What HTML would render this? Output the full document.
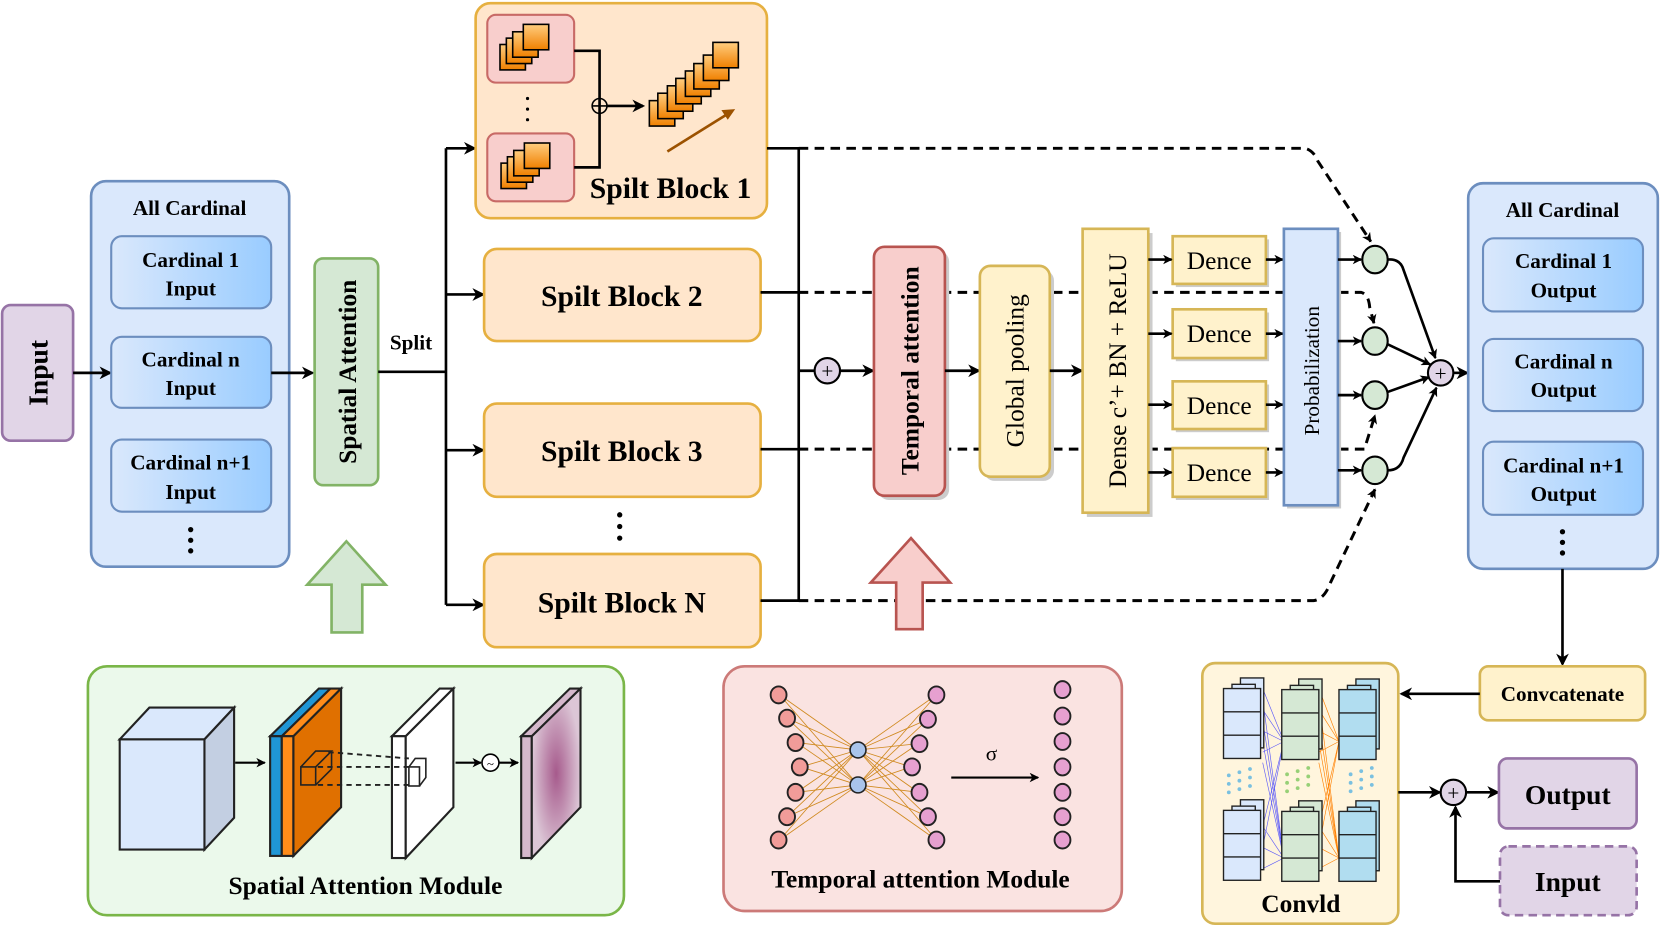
<!DOCTYPE html>
<html><head><meta charset="utf-8"><style>html,body{margin:0;padding:0;background:#fff}svg{display:block}</style></head><body>
<svg width="1661" height="929" viewBox="0 0 1568 877" preserveAspectRatio="none" xmlns="http://www.w3.org/2000/svg" font-family="'Liberation Serif',serif">
<defs>
<marker id="ar" markerWidth="12" markerHeight="12" refX="10" refY="6" orient="auto" markerUnits="userSpaceOnUse"><path d="M0,0 L12,6 L0,12 L3.5,6 z" fill="#000"/></marker>
<marker id="as" markerWidth="9" markerHeight="9" refX="8" refY="4.5" orient="auto" markerUnits="userSpaceOnUse"><path d="M0,0 L9,4.5 L0,9 L2.5,4.5 z" fill="#000"/></marker>
<linearGradient id="cg" x1="0" x2="1"><stop offset="0" stop-color="#dae8fc"/><stop offset="1" stop-color="#99ccff"/></linearGradient>
<linearGradient id="og" x1="0" y1="0" x2="0" y2="1"><stop offset="0" stop-color="#ffcd80"/><stop offset="1" stop-color="#f08000"/></linearGradient>
<radialGradient id="pg"><stop offset="0" stop-color="#a65a8c"/><stop offset="1" stop-color="#dcc6d6"/></radialGradient>
<g id="sq"><rect width="24" height="24" fill="url(#og)" stroke="#000" stroke-width="1.5"/></g>
<g id="cs1"><g stroke="#222" stroke-width="1.3" fill="#dae8fc"><rect x="16" y="-10" width="22" height="66"/><rect x="8" y="-4" width="22" height="66"/><rect x="0" y="0" width="35" height="66"/><line x1="0" y1="22" x2="35" y2="22"/><line x1="0" y1="44" x2="35" y2="44"/></g></g>
<g id="cs2"><g stroke="#222" stroke-width="1.3" fill="#d5e8d4"><rect x="16" y="-10" width="22" height="66"/><rect x="8" y="-4" width="22" height="66"/><rect x="0" y="0" width="35" height="66"/><line x1="0" y1="22" x2="35" y2="22"/><line x1="0" y1="44" x2="35" y2="44"/></g></g>
<g id="cs3"><g stroke="#222" stroke-width="1.3" fill="#b1ddf0"><rect x="16" y="-10" width="22" height="66"/><rect x="8" y="-4" width="22" height="66"/><rect x="0" y="0" width="35" height="66"/><line x1="0" y1="22" x2="35" y2="22"/><line x1="0" y1="44" x2="35" y2="44"/></g></g>
</defs>

<!-- Input -->
<rect x="2" y="288" width="67" height="128" rx="8" fill="#e1d5e7" stroke="#9673a6" stroke-width="2.5"/>
<text transform="translate(45,352) rotate(-90)" text-anchor="middle" font-size="26" font-weight="bold">Input</text>

<!-- Left All Cardinal -->
<rect x="86" y="171" width="187" height="364" rx="14" fill="#dae8fc" stroke="#6c8ebf" stroke-width="2.5"/>
<line x1="69" y1="352" x2="104" y2="352" stroke="#000" stroke-width="2.5" marker-end="url(#ar)"/>
<text x="179" y="203" text-anchor="middle" font-size="20" font-weight="bold">All Cardinal</text>
<rect x="105" y="223" width="151" height="68" rx="10" fill="url(#cg)" stroke="#6c8ebf" stroke-width="2"/>
<text x="180" y="252" text-anchor="middle" font-size="20" font-weight="bold">Cardinal 1</text><text x="180" y="279" text-anchor="middle" font-size="20" font-weight="bold">Input</text>
<rect x="105" y="318" width="151" height="67" rx="10" fill="url(#cg)" stroke="#6c8ebf" stroke-width="2"/>
<text x="180" y="346" text-anchor="middle" font-size="20" font-weight="bold">Cardinal n</text><text x="180" y="373" text-anchor="middle" font-size="20" font-weight="bold">Input</text>
<rect x="105" y="415" width="151" height="68" rx="10" fill="url(#cg)" stroke="#6c8ebf" stroke-width="2"/>
<text x="180" y="443" text-anchor="middle" font-size="20" font-weight="bold">Cardinal n+1</text><text x="180" y="471" text-anchor="middle" font-size="20" font-weight="bold">Input</text>
<g fill="#000"><circle cx="180" cy="500" r="2.5"/><circle cx="180" cy="510" r="2.5"/><circle cx="180" cy="520" r="2.5"/></g>
<line x1="256" y1="352" x2="295" y2="352" stroke="#000" stroke-width="2.5" marker-end="url(#ar)"/>

<!-- Spatial attention -->
<rect x="297" y="244" width="60" height="214" rx="8" fill="#d5e8d4" stroke="#82b366" stroke-width="2.5"/>
<text transform="translate(336,351) rotate(-90)" text-anchor="middle" font-size="24" font-weight="bold">Spatial Attention</text>
<line x1="357" y1="351" x2="421" y2="351" stroke="#000" stroke-width="2.5"/>
<text x="388" y="330" text-anchor="middle" font-size="20" font-weight="bold">Split</text>
<polyline points="421,140 421,571" fill="none" stroke="#000" stroke-width="2.5"/>
<line x1="421" y1="140" x2="448" y2="140" stroke="#000" stroke-width="2.5" marker-end="url(#ar)"/>
<line x1="421" y1="278" x2="456" y2="278" stroke="#000" stroke-width="2.5" marker-end="url(#ar)"/>
<line x1="421" y1="425" x2="456" y2="425" stroke="#000" stroke-width="2.5" marker-end="url(#ar)"/>
<line x1="421" y1="571" x2="456" y2="571" stroke="#000" stroke-width="2.5" marker-end="url(#ar)"/>

<!-- Spilt Block 1 -->
<rect x="449" y="3" width="275" height="203" rx="14" fill="#ffe6cc" stroke="#e6b040" stroke-width="2.5"/>
<rect x="460" y="14" width="82" height="64" rx="8" fill="#f8cecc" stroke="#c86a66" stroke-width="2"/>
<rect x="460" y="126" width="82" height="64" rx="8" fill="#f8cecc" stroke="#c86a66" stroke-width="2"/>
<use href="#sq" x="472" y="42"/><use href="#sq" x="478" y="36"/><use href="#sq" x="484" y="30"/><use href="#sq" x="494" y="23"/>
<use href="#sq" x="473" y="154"/><use href="#sq" x="479" y="148"/><use href="#sq" x="485" y="142"/><use href="#sq" x="495" y="135"/>
<g fill="#000"><circle cx="498" cy="93" r="1.5"/><circle cx="498" cy="103" r="1.5"/><circle cx="498" cy="113" r="1.5"/></g>
<polyline points="542,48 566,48 566,158 542,158" fill="none" stroke="#000" stroke-width="2.5"/>
<circle cx="566" cy="100" r="7" fill="none" stroke="#000" stroke-width="1.5"/><line x1="559" y1="100" x2="573" y2="100" stroke="#000" stroke-width="1.5"/>
<line x1="573" y1="100" x2="607" y2="100" stroke="#000" stroke-width="2.5" marker-end="url(#ar)"/>
<use href="#sq" x="613" y="95"/><use href="#sq" x="621" y="88"/><use href="#sq" x="630" y="81"/><use href="#sq" x="638" y="74"/><use href="#sq" x="647" y="67"/><use href="#sq" x="655" y="60"/><use href="#sq" x="664" y="52"/><use href="#sq" x="673" y="40"/>
<line x1="630" y1="143" x2="691" y2="105" stroke="#9c5200" stroke-width="2.5"/><path d="M694,103 L681,104 L687,113 z" fill="#9c5200"/>
<text x="633" y="187" text-anchor="middle" font-size="28" font-weight="bold">Spilt Block 1</text>

<!-- Blocks 2,3,N -->
<rect x="457" y="235" width="261" height="87" rx="12" fill="#ffe6cc" stroke="#e6b040" stroke-width="2.5"/>
<text x="587" y="289" text-anchor="middle" font-size="28" font-weight="bold">Spilt Block 2</text>
<rect x="457" y="381" width="261" height="88" rx="12" fill="#ffe6cc" stroke="#e6b040" stroke-width="2.5"/>
<text x="587" y="435" text-anchor="middle" font-size="28" font-weight="bold">Spilt Block 3</text>
<g fill="#000"><circle cx="585" cy="486" r="2.5"/><circle cx="585" cy="497" r="2.5"/><circle cx="585" cy="508" r="2.5"/></g>
<rect x="457" y="523" width="261" height="88" rx="12" fill="#ffe6cc" stroke="#e6b040" stroke-width="2.5"/>
<text x="587" y="578" text-anchor="middle" font-size="28" font-weight="bold">Spilt Block N</text>

<!-- collecting lines -->
<g stroke="#000" stroke-width="2.5" fill="none">
<polyline points="724,140 754,140 754,567 718,567"/>
<line x1="718" y1="276" x2="754" y2="276"/><line x1="718" y1="424" x2="754" y2="424"/>
<line x1="754" y1="350" x2="769" y2="350"/>
</g>
<circle cx="781" cy="350" r="12" fill="#e1d5e7" stroke="#000" stroke-width="2"/><text x="781" y="357" text-anchor="middle" font-size="20">+</text>
<line x1="793" y1="350" x2="824" y2="350" stroke="#000" stroke-width="2.5" marker-end="url(#ar)"/>

<!-- dashed -->
<g stroke="#000" stroke-width="2.8" fill="none" stroke-dasharray="9,6">
<path d="M754,140 L1232,140 Q1240,142 1244,152 L1294,228" marker-end="url(#as)"/>
<path d="M754,276 L1285,276 Q1292,278 1293,290 L1297,305" marker-end="url(#as)"/>
<path d="M754,424 L1288,424 L1298,392" marker-end="url(#as)"/>
<path d="M754,567 L1240,567 Q1250,566 1256,550 L1298,462" marker-end="url(#as)"/>
</g>

<!-- Temporal attention -->
<rect x="829" y="237" width="67" height="235" rx="10" fill="#ccc"/>
<rect x="825" y="233" width="67" height="235" rx="10" fill="#f8cecc" stroke="#b85450" stroke-width="2.5"/>
<text transform="translate(867,350) rotate(-90)" text-anchor="middle" font-size="24" font-weight="bold">Temporal attention</text>
<line x1="892" y1="350" x2="924" y2="350" stroke="#000" stroke-width="2.5" marker-end="url(#ar)"/>
<rect x="929" y="255" width="66" height="199" rx="10" fill="#ccc"/>
<rect x="925" y="251" width="66" height="199" rx="10" fill="#fff2cc" stroke="#d6b656" stroke-width="2.5"/>
<text transform="translate(966,350) rotate(-90)" text-anchor="middle" font-size="24">Global pooling</text>
<line x1="991" y1="350" x2="1021" y2="350" stroke="#000" stroke-width="2.5" marker-end="url(#ar)"/>
<rect x="1026" y="220" width="62" height="268" fill="#ccc"/>
<rect x="1022" y="216" width="62" height="268" fill="#fff2cc" stroke="#d6b656" stroke-width="2.5"/>
<text transform="translate(1063,350) rotate(-90)" text-anchor="middle" font-size="24">Dense c’+ BN + ReLU</text>

<!-- Dence -->
<g font-size="24">
<rect x="1110" y="226" width="88" height="45" fill="#ccc"/><rect x="1107" y="223" width="88" height="45" fill="#fff2cc" stroke="#d6b656" stroke-width="2.5"/><text x="1151" y="254" text-anchor="middle">Dence</text>
<rect x="1110" y="295" width="88" height="46" fill="#ccc"/><rect x="1107" y="292" width="88" height="46" fill="#fff2cc" stroke="#d6b656" stroke-width="2.5"/><text x="1151" y="323" text-anchor="middle">Dence</text>
<rect x="1110" y="363" width="88" height="45" fill="#ccc"/><rect x="1107" y="360" width="88" height="45" fill="#fff2cc" stroke="#d6b656" stroke-width="2.5"/><text x="1151" y="391" text-anchor="middle">Dence</text>
<rect x="1110" y="426" width="88" height="46" fill="#ccc"/><rect x="1107" y="423" width="88" height="46" fill="#fff2cc" stroke="#d6b656" stroke-width="2.5"/><text x="1151" y="454" text-anchor="middle">Dence</text>
</g>
<g stroke="#000" stroke-width="2.5">
<line x1="1084" y1="245" x2="1106" y2="245" marker-end="url(#as)"/><line x1="1084" y1="315" x2="1106" y2="315" marker-end="url(#as)"/><line x1="1084" y1="382" x2="1106" y2="382" marker-end="url(#as)"/><line x1="1084" y1="446" x2="1106" y2="446" marker-end="url(#as)"/>
<line x1="1195" y1="245" x2="1211" y2="245" marker-end="url(#as)"/><line x1="1195" y1="315" x2="1211" y2="315" marker-end="url(#as)"/><line x1="1195" y1="382" x2="1211" y2="382" marker-end="url(#as)"/><line x1="1195" y1="446" x2="1211" y2="446" marker-end="url(#as)"/>
</g>
<rect x="1215" y="219" width="51" height="261" fill="#ccc"/>
<rect x="1212" y="216" width="51" height="261" fill="#dae8fc" stroke="#6c8ebf" stroke-width="2.5"/>
<text transform="translate(1245,350) rotate(-90)" text-anchor="middle" font-size="20">Probabilization</text>
<g stroke="#000" stroke-width="2.5">
<line x1="1263" y1="245" x2="1285" y2="245" marker-end="url(#as)"/><line x1="1263" y1="322" x2="1285" y2="322" marker-end="url(#as)"/><line x1="1263" y1="373" x2="1285" y2="373" marker-end="url(#as)"/><line x1="1263" y1="444" x2="1285" y2="444" marker-end="url(#as)"/>
</g>
<g fill="#d5e8d4" stroke="#000" stroke-width="2">
<ellipse cx="1298" cy="245" rx="12" ry="13"/><ellipse cx="1298" cy="322" rx="12" ry="13"/><ellipse cx="1298" cy="373" rx="12" ry="13"/><ellipse cx="1298" cy="444" rx="12" ry="13"/>
</g>
<g stroke="#000" stroke-width="2.5" fill="none">
<path d="M1310,245 Q1322,244 1325,255 L1355,338" marker-end="url(#as)"/>
<path d="M1310,325 L1350,344" marker-end="url(#as)"/>
<path d="M1310,370 L1349,356" marker-end="url(#as)"/>
<path d="M1310,444 Q1322,444 1325,432 L1356,366" marker-end="url(#as)"/>
</g>
<circle cx="1360" cy="352" r="12" fill="#e1d5e7" stroke="#000" stroke-width="2"/><text x="1360" y="359" text-anchor="middle" font-size="20">+</text>
<line x1="1372" y1="352" x2="1385" y2="352" stroke="#000" stroke-width="2.5" marker-end="url(#ar)"/>

<!-- Right All Cardinal -->
<rect x="1386" y="173" width="179" height="364" rx="14" fill="#dae8fc" stroke="#6c8ebf" stroke-width="2.5"/>
<text x="1475" y="205" text-anchor="middle" font-size="20" font-weight="bold">All Cardinal</text>
<rect x="1400" y="225" width="151" height="69" rx="10" fill="url(#cg)" stroke="#6c8ebf" stroke-width="2"/>
<text x="1476" y="253" text-anchor="middle" font-size="20" font-weight="bold">Cardinal 1</text><text x="1476" y="281" text-anchor="middle" font-size="20" font-weight="bold">Output</text>
<rect x="1400" y="320" width="151" height="68" rx="10" fill="url(#cg)" stroke="#6c8ebf" stroke-width="2"/>
<text x="1476" y="348" text-anchor="middle" font-size="20" font-weight="bold">Cardinal n</text><text x="1476" y="375" text-anchor="middle" font-size="20" font-weight="bold">Output</text>
<rect x="1400" y="417" width="151" height="69" rx="10" fill="url(#cg)" stroke="#6c8ebf" stroke-width="2"/>
<text x="1476" y="446" text-anchor="middle" font-size="20" font-weight="bold">Cardinal n+1</text><text x="1476" y="473" text-anchor="middle" font-size="20" font-weight="bold">Output</text>
<g fill="#000"><circle cx="1475" cy="502" r="2.5"/><circle cx="1475" cy="512" r="2.5"/><circle cx="1475" cy="522" r="2.5"/></g>
<line x1="1475" y1="537" x2="1475" y2="627" stroke="#000" stroke-width="2.5" marker-end="url(#ar)"/>
<rect x="1397" y="629" width="156" height="51" rx="8" fill="#fff2cc" stroke="#d6b656" stroke-width="2.5"/>
<text x="1475" y="662" text-anchor="middle" font-size="20" font-weight="bold">Convcatenate</text>
<line x1="1397" y1="655" x2="1323" y2="655" stroke="#000" stroke-width="2.5" marker-end="url(#ar)"/>

<!-- Conv1d -->
<rect x="1135" y="626" width="185" height="246" rx="12" fill="#fff5dd" stroke="#d6b656" stroke-width="2.5"/>
<g stroke="#3333ff" stroke-width="0.6" opacity="0.8">
<line x1="1192" y1="650" x2="1212" y2="700"/><line x1="1192" y1="670" x2="1212" y2="700"/><line x1="1192" y1="690" x2="1212" y2="700"/><line x1="1192" y1="710" x2="1212" y2="700"/><line x1="1192" y1="720" x2="1212" y2="810"/><line x1="1192" y1="700" x2="1212" y2="810"/><line x1="1192" y1="680" x2="1212" y2="810"/><line x1="1192" y1="660" x2="1212" y2="810"/><line x1="1192" y1="780" x2="1212" y2="810"/><line x1="1192" y1="800" x2="1212" y2="810"/><line x1="1192" y1="820" x2="1212" y2="810"/><line x1="1192" y1="780" x2="1212" y2="700"/><line x1="1192" y1="800" x2="1212" y2="700"/>
</g>
<g stroke="#ff8000" stroke-width="0.6">
<line x1="1245" y1="650" x2="1264" y2="700"/><line x1="1245" y1="670" x2="1264" y2="700"/><line x1="1245" y1="690" x2="1264" y2="700"/><line x1="1245" y1="710" x2="1264" y2="700"/><line x1="1245" y1="720" x2="1264" y2="810"/><line x1="1245" y1="700" x2="1264" y2="810"/><line x1="1245" y1="680" x2="1264" y2="810"/><line x1="1245" y1="660" x2="1264" y2="810"/><line x1="1245" y1="780" x2="1264" y2="810"/><line x1="1245" y1="800" x2="1264" y2="810"/><line x1="1245" y1="820" x2="1264" y2="810"/><line x1="1245" y1="780" x2="1264" y2="700"/><line x1="1245" y1="800" x2="1264" y2="700"/>
</g>
<use href="#cs1" x="1155" y="650"/><use href="#cs1" x="1155" y="765"/>
<use href="#cs2" x="1210" y="651"/><use href="#cs2" x="1210" y="766"/>
<use href="#cs3" x="1264" y="651"/><use href="#cs3" x="1264" y="766"/>
<g fill="#7ac0e0"><circle cx="1160" cy="732" r="1.8"/><circle cx="1170" cy="729" r="1.8"/><circle cx="1180" cy="726" r="1.8"/><circle cx="1160" cy="740" r="1.8"/><circle cx="1170" cy="737" r="1.8"/><circle cx="1180" cy="734" r="1.8"/><circle cx="1160" cy="748" r="1.8"/><circle cx="1170" cy="745" r="1.8"/><circle cx="1180" cy="742" r="1.8"/>
<circle cx="1275" cy="731" r="1.8"/><circle cx="1285" cy="728" r="1.8"/><circle cx="1295" cy="725" r="1.8"/><circle cx="1275" cy="739" r="1.8"/><circle cx="1285" cy="736" r="1.8"/><circle cx="1295" cy="733" r="1.8"/><circle cx="1275" cy="747" r="1.8"/><circle cx="1285" cy="744" r="1.8"/><circle cx="1295" cy="741" r="1.8"/></g>
<g fill="#97d077"><circle cx="1215" cy="731" r="1.8"/><circle cx="1225" cy="728" r="1.8"/><circle cx="1235" cy="725" r="1.8"/><circle cx="1215" cy="739" r="1.8"/><circle cx="1225" cy="736" r="1.8"/><circle cx="1235" cy="733" r="1.8"/><circle cx="1215" cy="747" r="1.8"/><circle cx="1225" cy="744" r="1.8"/><circle cx="1235" cy="741" r="1.8"/></g>
<text x="1228" y="861" text-anchor="middle" font-size="24" font-weight="bold">Convld</text>
<line x1="1320" y1="748" x2="1359" y2="748" stroke="#000" stroke-width="2.5" marker-end="url(#ar)"/>
<circle cx="1372" cy="748" r="12" fill="#e1d5e7" stroke="#000" stroke-width="2"/><text x="1372" y="755" text-anchor="middle" font-size="20">+</text>
<line x1="1384" y1="748" x2="1414" y2="748" stroke="#000" stroke-width="2.5" marker-end="url(#ar)"/>
<rect x="1415" y="716" width="130" height="66" rx="8" fill="#e1d5e7" stroke="#9673a6" stroke-width="2.5"/>
<text x="1480" y="759" text-anchor="middle" font-size="26" font-weight="bold">Output</text>
<rect x="1416" y="799" width="129" height="65" rx="8" fill="#e1d5e7" stroke="#9673a6" stroke-width="2.5" stroke-dasharray="8,5"/>
<text x="1480" y="841" text-anchor="middle" font-size="26" font-weight="bold">Input</text>
<polyline points="1416,832 1374,832 1374,762" fill="none" stroke="#000" stroke-width="2.5" marker-end="url(#ar)"/>

<!-- big arrows -->
<path d="M313,597 L342,597 L342,552 L364,552 L327,511 L290,552 L313,552 z" fill="#d5e8d4" stroke="#82b366" stroke-width="2.5"/>
<path d="M846,594 L871,594 L871,550 L897,550 L860,508 L822,550 L846,550 z" fill="#f8cecc" stroke="#b85450" stroke-width="2.5"/>

<!-- Spatial Attention Module -->
<rect x="83" y="629" width="506" height="235" rx="18" fill="#ebf9eb" stroke="#7ab648" stroke-width="2.5"/>
<g stroke="#222" stroke-width="2">
<polygon points="113,698 193,698 221,668 141,668" fill="#dae8fc"/>
<polygon points="193,698 221,668 221,772 193,802" fill="#c3cfe2"/>
<rect x="113" y="698" width="80" height="104" fill="#dae8fc"/>
<polygon points="255,695 266,695 312,650 301,650" fill="#1f96d6"/>
<rect x="255" y="695" width="11" height="113" fill="#1f96d6"/>
<polygon points="266,695 277,695 322,650 312,650" fill="#ff8c1a"/>
<rect x="266" y="695" width="11" height="113" fill="#ff8c1a"/>
<polygon points="277,695 322,650 322,762 277,808" fill="#e07000"/>
<polygon points="370,695 383,695 428,650 415,650" fill="#fff"/>
<rect x="370" y="695" width="13" height="115" fill="#fff"/>
<polygon points="383,695 428,650 428,762 383,810" fill="#fff"/>
<polygon points="492,695 502,695 548,650 538,650" fill="#d5b8cc"/>
<rect x="492" y="695" width="10" height="115" fill="#d5b8cc"/>
<polygon points="502,695 548,650 548,762 502,810" fill="url(#pg)"/>
</g>
<g stroke="#222" stroke-width="1.5" fill="none">
<rect x="284" y="724" width="14" height="17"/><polyline points="284,724 298,709 313,709 298,724"/><polyline points="313,709 313,726 298,741"/>
<rect x="386" y="724" width="10" height="18"/><polyline points="386,724 392,716 402,716 402,734 396,742"/>
</g>
<g stroke="#222" stroke-width="1.8" stroke-dasharray="5,4"><line x1="310" y1="710" x2="386" y2="716"/><line x1="300" y1="724" x2="386" y2="724"/><line x1="300" y1="741" x2="386" y2="741"/></g>
<line x1="222" y1="720" x2="250" y2="720" stroke="#000" stroke-width="2" marker-end="url(#as)"/>
<line x1="430" y1="720" x2="454" y2="720" stroke="#000" stroke-width="2" marker-end="url(#as)"/>
<circle cx="463" cy="720" r="8" fill="#fff" stroke="#000" stroke-width="1.5"/><text x="463" y="725" text-anchor="middle" font-size="12">~</text>
<line x1="471" y1="720" x2="489" y2="720" stroke="#000" stroke-width="2" marker-end="url(#as)"/>
<text x="345" y="844" text-anchor="middle" font-size="24" font-weight="bold">Spatial Attention Module</text>

<!-- Temporal Module -->
<rect x="683" y="629" width="376" height="231" rx="20" fill="#fae3e1" stroke="#cc7a78" stroke-width="2.5"/>
<g stroke="#d08a20" stroke-width="0.8">
<line x1="736" y1="656" x2="810" y2="708"/><line x1="743" y1="678" x2="810" y2="708"/><line x1="752" y1="701" x2="810" y2="708"/><line x1="756" y1="724" x2="810" y2="708"/><line x1="752" y1="748" x2="810" y2="708"/><line x1="743" y1="771" x2="810" y2="708"/><line x1="736" y1="793" x2="810" y2="708"/>
<line x1="736" y1="656" x2="810" y2="741"/><line x1="743" y1="678" x2="810" y2="741"/><line x1="752" y1="701" x2="810" y2="741"/><line x1="756" y1="724" x2="810" y2="741"/><line x1="752" y1="748" x2="810" y2="741"/><line x1="743" y1="771" x2="810" y2="741"/><line x1="736" y1="793" x2="810" y2="741"/>
<line x2="884" y2="656" x1="810" y1="708"/><line x2="876" y2="679" x1="810" y1="708"/><line x2="867" y2="702" x1="810" y1="708"/><line x2="860" y2="724" x1="810" y1="708"/><line x2="867" y2="748" x1="810" y1="708"/><line x2="876" y2="771" x1="810" y1="708"/><line x2="884" y2="793" x1="810" y1="708"/>
<line x2="884" y2="656" x1="810" y1="741"/><line x2="876" y2="679" x1="810" y1="741"/><line x2="867" y2="702" x1="810" y1="741"/><line x2="860" y2="724" x1="810" y1="741"/><line x2="867" y2="748" x1="810" y1="741"/><line x2="876" y2="771" x1="810" y1="741"/><line x2="884" y2="793" x1="810" y1="741"/>
</g>
<g fill="#f19c99" stroke="#222" stroke-width="1.8">
<ellipse cx="735" cy="656" rx="7.5" ry="8"/><ellipse cx="743" cy="678" rx="7.5" ry="8"/><ellipse cx="751" cy="701" rx="7.5" ry="8"/><ellipse cx="755" cy="724" rx="7.5" ry="8"/><ellipse cx="751" cy="748" rx="7.5" ry="8"/><ellipse cx="743" cy="771" rx="7.5" ry="8"/><ellipse cx="735" cy="793" rx="7.5" ry="8"/>
</g>
<g fill="#a9c4eb" stroke="#222" stroke-width="1.5"><circle cx="810" cy="708" r="7.5"/><circle cx="810" cy="741" r="7.5"/></g>
<g fill="#e6a0d0" stroke="#222" stroke-width="1.8">
<ellipse cx="884" cy="656" rx="7.5" ry="8"/><ellipse cx="876" cy="679" rx="7.5" ry="8"/><ellipse cx="868" cy="702" rx="7.5" ry="8"/><ellipse cx="861" cy="724" rx="7.5" ry="8"/><ellipse cx="868" cy="748" rx="7.5" ry="8"/><ellipse cx="876" cy="771" rx="7.5" ry="8"/><ellipse cx="884" cy="793" rx="7.5" ry="8"/>
<ellipse cx="1003" cy="651" rx="7.5" ry="8"/><ellipse cx="1003" cy="676" rx="7.5" ry="8"/><ellipse cx="1003" cy="700" rx="7.5" ry="8"/><ellipse cx="1003" cy="724" rx="7.5" ry="8"/><ellipse cx="1003" cy="748" rx="7.5" ry="8"/><ellipse cx="1003" cy="771" rx="7.5" ry="8"/><ellipse cx="1003" cy="793" rx="7.5" ry="8"/>
</g>
<text x="936" y="718" text-anchor="middle" font-size="20">σ</text>
<line x1="898" y1="734" x2="980" y2="734" stroke="#000" stroke-width="2" marker-end="url(#as)"/>
<text x="869" y="838" text-anchor="middle" font-size="24" font-weight="bold">Temporal attention Module</text>
</svg>
</body></html>
